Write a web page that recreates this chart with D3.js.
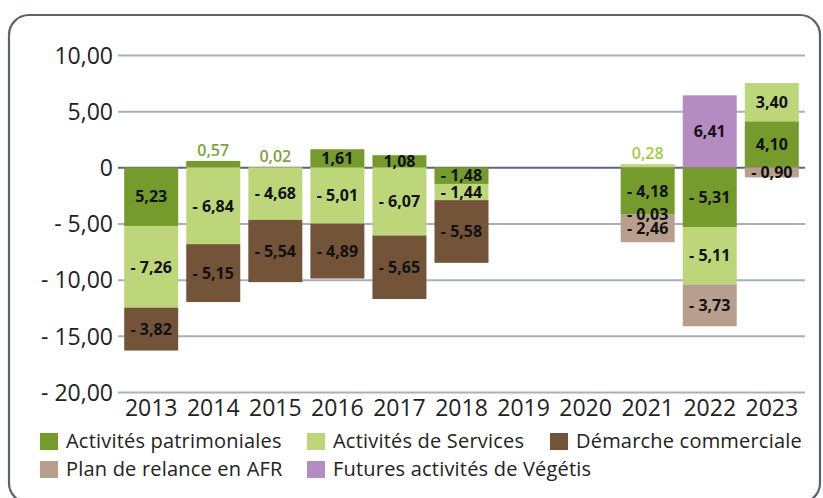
<!DOCTYPE html>
<html>
<head>
<meta charset="utf-8">
<script src="https://cdn.jsdelivr.net/npm/d3@7"></script>
<style>
  body { margin: 0; background: #fff; }
  svg { display: block; font-family: "Open Sans", "Noto Sans", sans-serif; }
</style>
</head>
<body>
<div id="chart"></div>
<script>
// Years on the x axis
const years = ["2013", "2014", "2015", "2016", "2017", "2018", "2019", "2020", "2021", "2022", "2023"];

// Series values per year (null = no value)
const patrimoniales = [-5.23, 0.57, 0.02, 1.61, 1.08, -1.48, null, null, -4.18, -5.31, 4.10];
const services      = [-7.26, -6.84, -4.68, -5.01, -6.07, -1.44, null, null, 0.28, -5.11, 3.40];
const demarche      = [-3.82, -5.15, -5.54, -4.89, -5.65, -5.58, null, null, -0.03, null, null];
const relance       = [null, null, null, null, null, null, null, null, -2.46, -3.73, -0.90];
const vegetis       = [null, null, null, null, null, null, null, null, null, 6.41, null];

const seriesNames = ["Activités patrimoniales", "Activités de Services", "Démarche commerciale",
                     "Plan de relance en AFR", "Futures activités de Végétis"];
const seriesValues = [patrimoniales, services, demarche, relance, vegetis];
const colors = ["#759b2c", "#bdd67a", "#735439", "#b89f8d", "#b48cc1"];
const outsideColors = ["#7da33a", "#a3cc45", "#735439", "#b89f8d", "#b48cc1"];

// y ticks and their labels
const yTicks = [10, 5, 0, -5, -10, -15, -20];
const yTickLabels = ["10,00", "5,00", "0", "- 5,00", "- 10,00", "- 15,00", "- 20,00"];

// label printed without its sign in the source
const unsignedLabels = [["2013", "Activités patrimoniales"]];

const W = 823, H = 498;
const svg = d3.select("#chart").append("svg").attr("width", W).attr("height", H);

// frame
svg.append("rect")
  .attr("x", 9).attr("y", 15).attr("width", 811).attr("height", 488)
  .attr("rx", 20).attr("ry", 20)
  .attr("fill", "none").attr("stroke", "#5a6270").attr("stroke-width", 2.2);

const plotLeft = 118, plotRight = 805, plotTop = 55, plotBottom = 392;

const x = d3.scaleBand().domain(years).range([plotLeft, plotRight]).paddingInner(0.13).paddingOuter(0.1);
const y = d3.scaleLinear().domain([-20, 10]).range([plotBottom, plotTop]);

// table for stacking
const table = years.map((yr, i) => {
  const row = { year: yr };
  seriesNames.forEach((n, k) => row[n] = seriesValues[k][i] == null ? 0 : seriesValues[k][i]);
  return row;
});

const stack = d3.stack().keys(seriesNames).offset(d3.stackOffsetDiverging);
const layers = stack(table);

// y axis with gridlines
const yAxis = svg.append("g")
  .attr("transform", `translate(${plotLeft},0)`)
  .call(d3.axisLeft(y).tickValues(yTicks).tickSize(-(plotRight - plotLeft)).tickPadding(5)
    .tickFormat((d, i) => yTickLabels[i]));
yAxis.select(".domain").remove();
yAxis.selectAll(".tick line")
  .attr("stroke", d => d === 0 ? "#5d6577" : "#a9b0bc")
  .attr("stroke-width", 2);
yAxis.selectAll(".tick text")
  .attr("fill", "#222").style("font-family", "'Open Sans', sans-serif")
  .style("font-size", "23px").attr("dy", "0.36em");

// x axis labels
const xAxis = svg.append("g")
  .attr("transform", `translate(0,${plotBottom})`)
  .call(d3.axisBottom(x).tickSize(0).tickPadding(8));
xAxis.select(".domain").remove();
xAxis.selectAll(".tick text").attr("fill", "#222")
  .style("font-family", "'Open Sans', sans-serif").style("font-size", "23px");

// bars
const fmt = v => {
  const s = Math.abs(v).toFixed(2).replace(".", ",");
  return v < 0 ? "- " + s : s;
};

layers.forEach((layer, k) => {
  const g = svg.append("g");
  layer.forEach((d, i) => {
    const v = seriesValues[k][i];
    if (v == null) return;
    const y0 = y(d[0]), y1 = y(d[1]);
    g.append("rect")
      .attr("x", x(years[i]))
      .attr("y", Math.min(y0, y1))
      .attr("width", x.bandwidth())
      .attr("height", Math.abs(y1 - y0))
      .attr("fill", colors[k]);
  });
});

// value labels on top of bars
layers.forEach((layer, k) => {
  layer.forEach((d, i) => {
    const v = seriesValues[k][i];
    if (v == null) return;
    const unsigned = unsignedLabels.some(u => u[0] === years[i] && u[1] === seriesNames[k]);
    const txt = unsigned ? fmt(Math.abs(v)) : fmt(v);
    const cx = x(years[i]) + x.bandwidth() / 2;
    if (v > 0 && v < 0.6) {
      svg.append("text")
        .attr("x", cx).attr("y", y(d[1]) - 5)
        .attr("text-anchor", "middle")
        .attr("fill", outsideColors[k])
        .style("font-size", "16px").style("font-weight", 600)
        .text(txt);
    } else {
      svg.append("text")
        .attr("x", cx).attr("y", (y(d[0]) + y(d[1])) / 2)
        .attr("dy", "0.36em")
        .attr("text-anchor", "middle")
        .attr("fill", "#111")
        .style("font-size", "16px").style("font-weight", 700)
        .text(txt);
    }
  });
});

// legend
const legendPos = [[40, 441], [307, 441], [550, 441], [40, 469], [307, 469]];
seriesNames.forEach((n, k) => {
  const [lx, ly] = legendPos[k];
  svg.append("rect").attr("x", lx).attr("y", ly - 8).attr("width", 18).attr("height", 17)
    .attr("fill", colors[k]);
  svg.append("text").attr("x", lx + 26).attr("y", ly).attr("dy", "0.36em")
    .attr("fill", "#222").style("font-size", "20px").style("letter-spacing", "0.2px").text(n);
});
</script>
</body>
</html>
